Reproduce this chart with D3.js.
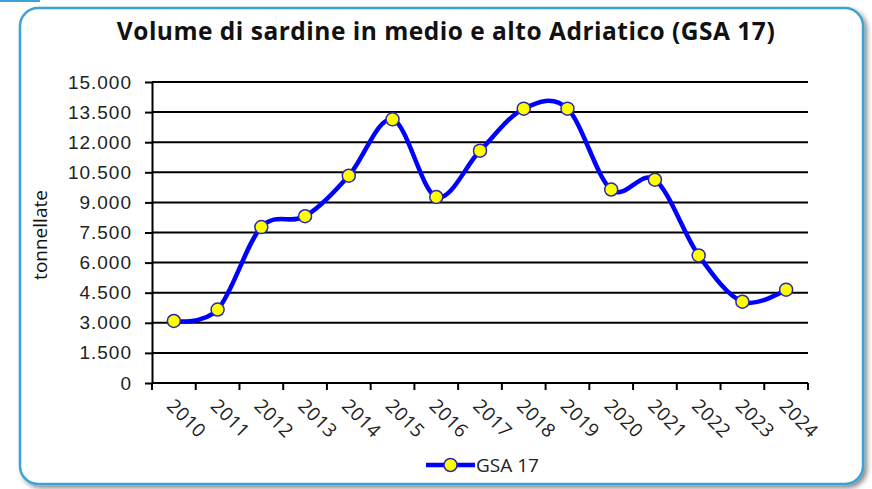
<!DOCTYPE html>
<html>
<head>
<meta charset="utf-8">
<script src="https://cdn.jsdelivr.net/npm/d3@7"></script>
<style>
  body { margin: 0; background: #fff; }
  svg { display: block; font-family: "Open Sans", Lato, sans-serif; }
</style>
</head>
<body>
<div id="chart"></div>
<script>
// data
var years = ['2010', '2011', '2012', '2013', '2014', '2015', '2016', '2017', '2018', '2019', '2020', '2021', '2022', '2023', '2024'];
var tonnes = [3090, 3660, 7770, 8310, 10330, 13140, 9270, 11580, 13670, 13670, 9640, 10130, 6360, 4050, 4650];
var yTicks = [0, 1500, 3000, 4500, 6000, 7500, 9000, 10500, 12000, 13500, 15000];
var seriesName = 'GSA 17';
var chartTitle = 'Volume di sardine in medio e alto Adriatico (GSA 17)';
var yTitle = 'tonnellate';

var width = 872, height = 489;
var plot = { left: 152, right: 808, top: 82, bottom: 383 };

var svg = d3.select('#chart').append('svg')
    .attr('width', width)
    .attr('height', height);

var defs = svg.append('defs');
var shadow = defs.append('filter').attr('id', 'shadow')
    .attr('x', '-5%').attr('y', '-5%').attr('width', '110%').attr('height', '110%');
shadow.append('feGaussianBlur').attr('in', 'SourceAlpha').attr('stdDeviation', 2.5);
shadow.append('feOffset').attr('dx', 3).attr('dy', 3).attr('result', 'blur');
shadow.append('feFlood').attr('flood-color', '#000').attr('flood-opacity', 0.45);
shadow.append('feComposite').attr('in2', 'blur').attr('operator', 'in');
var merge = shadow.append('feMerge');
merge.append('feMergeNode');
merge.append('feMergeNode').attr('in', 'SourceGraphic');

// frame
svg.append('path')
    .attr('d', 'M0,1 L40,1')
    .attr('stroke', '#3ba3d6')
    .attr('stroke-width', 2);
svg.append('rect')
    .attr('x', 20)
    .attr('y', 8)
    .attr('width', 843)
    .attr('height', 476)
    .attr('rx', 18)
    .attr('fill', '#fff')
    .attr('stroke', '#3ba3d6')
    .attr('stroke-width', 2.5)
    .attr('filter', 'url(#shadow)');

var x = d3.scaleBand()
    .domain(years)
    .range([plot.left, plot.right]);

var y = d3.scaleLinear()
    .domain([0, 15000])
    .range([plot.bottom, plot.top]);

var fmt = function (d) {
    return d3.format(',')(d).replace(/,/g, '.');
};

// gridlines
svg.append('g')
    .selectAll('line')
    .data(yTicks.filter(function (d) { return d > 0; }))
    .enter()
    .append('line')
    .attr('x1', plot.left)
    .attr('x2', plot.right)
    .attr('y1', function (d) { return y(d); })
    .attr('y2', function (d) { return y(d); })
    .attr('stroke', '#000')
    .attr('stroke-width', 2);

// y axis
var yAxis = svg.append('g')
    .attr('transform', 'translate(' + plot.left + ',0)')
    .call(d3.axisLeft(y).tickValues(yTicks).tickFormat(fmt).tickSize(7).tickSizeOuter(0));
yAxis.select('.domain').attr('stroke', '#000').attr('stroke-width', 2);
yAxis.selectAll('.tick line').attr('stroke', '#000').attr('stroke-width', 2);
yAxis.selectAll('.tick text')
    .attr('x', -20)
    .attr('fill', '#222')
    .style('font-size', '19px')
    .style('letter-spacing', '1px');

// x axis, ticks at band boundaries
var xAxis = svg.append('g')
    .attr('transform', 'translate(0,' + plot.bottom + ')');
xAxis.append('line')
    .attr('x1', plot.left)
    .attr('x2', plot.right)
    .attr('stroke', '#000')
    .attr('stroke-width', 2);
xAxis.selectAll('.bound')
    .data(years.concat(['end']))
    .enter()
    .append('line')
    .attr('class', 'bound')
    .attr('x1', function (d, i) { return plot.left + i * x.step(); })
    .attr('x2', function (d, i) { return plot.left + i * x.step(); })
    .attr('y1', 0)
    .attr('y2', 7)
    .attr('stroke', '#000')
    .attr('stroke-width', 2);
xAxis.selectAll('text')
    .data(years)
    .enter()
    .append('text')
    .attr('transform', function (d) {
        return 'translate(' + (x(d) + x.bandwidth() / 2 - 8) + ',24) rotate(45)';
    })
    .attr('fill', '#222')
    .style('font-size', '19px')
    .style('letter-spacing', '0.5px')
    .text(function (d) { return d; });

// y title
svg.append('text')
    .attr('transform', 'translate(47,235) rotate(-90)')
    .attr('text-anchor', 'middle')
    .attr('fill', '#111')
    .style('font-size', '19px')
    .text(yTitle);

// title
svg.append('text')
    .attr('x', 446)
    .attr('y', 40)
    .attr('text-anchor', 'middle')
    .attr('fill', '#111')
    .style('font-size', '24.5px')
    .style('font-weight', 'bold')
    .style('letter-spacing', '0.5px')
    .text(chartTitle);

// series
var line = d3.line()
    .x(function (d, i) { return x(years[i]) + x.bandwidth() / 2; })
    .y(function (d) { return y(d); })
    .curve(d3.curveCardinal.tension(0));

svg.append('path')
    .datum(tonnes)
    .attr('d', line)
    .attr('fill', 'none')
    .attr('stroke', '#0000ff')
    .attr('stroke-width', 4.5)
    .attr('stroke-linejoin', 'round');

svg.append('g')
    .selectAll('circle')
    .data(tonnes)
    .enter()
    .append('circle')
    .attr('cx', function (d, i) { return x(years[i]) + x.bandwidth() / 2; })
    .attr('cy', function (d) { return y(d); })
    .attr('r', 6.5)
    .attr('fill', '#ffff00')
    .attr('stroke', '#2a2aa8')
    .attr('stroke-width', 1.5);

// legend
var legend = svg.append('g')
    .attr('transform', 'translate(426,465)');
legend.append('line')
    .attr('x1', 0)
    .attr('x2', 49)
    .attr('stroke', '#0000ff')
    .attr('stroke-width', 4.5);
legend.append('circle')
    .attr('cx', 24.5)
    .attr('r', 6.5)
    .attr('fill', '#ffff00')
    .attr('stroke', '#2a2aa8')
    .attr('stroke-width', 1.5);
legend.append('text')
    .attr('x', 50)
    .attr('y', 7)
    .attr('fill', '#222')
    .style('font-size', '19px')
    .text(seriesName);
</script>
</body>
</html>
